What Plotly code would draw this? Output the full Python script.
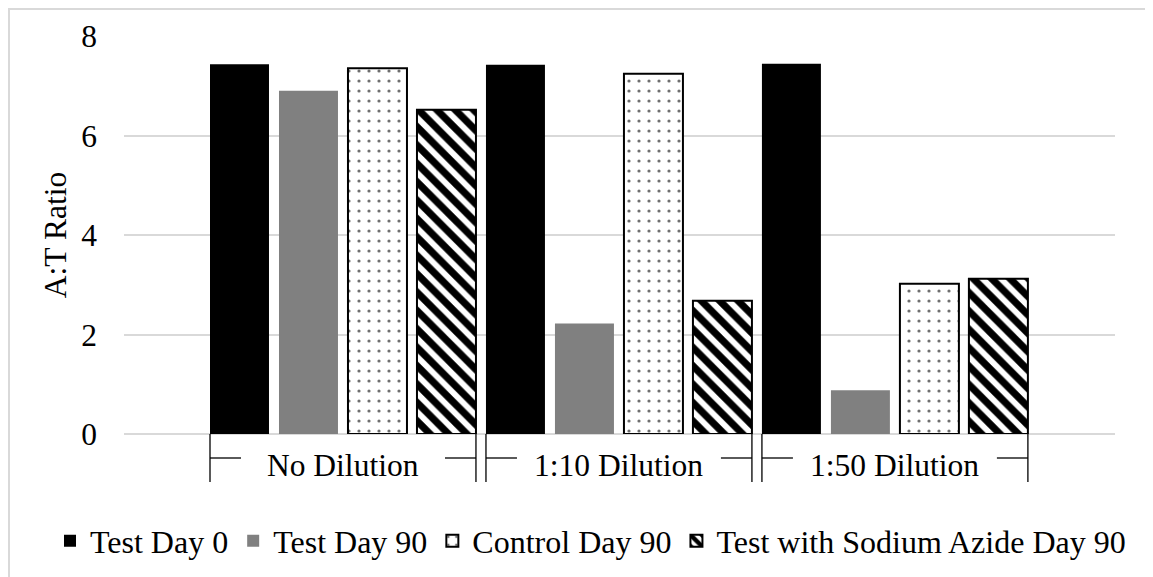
import plotly.graph_objects as go

groups = ["No Dilution", "1:10 Dilution", "1:50 Dilution"]
series = ["Test Day 0", "Test Day 90", "Control Day 90", "Test with Sodium Azide Day 90"]
test_day0 = [7.43, 7.42, 7.44]
test_day90 = [6.90, 2.22, 0.88]
control_day90 = [7.35, 7.24, 3.02]
azide_day90 = [6.52, 2.68, 3.12]
values = [test_day0, test_day90, control_day90, azide_day90]

FONT = "Liberation Serif"
FS = 31.5
LFS = 32
BW = 0.855
NS = len(series)

W, H = 1145, 569
ML, MR, MT, MB = 116, 38, 28, 143
PW = W - ML - MR
PH = H - MT - MB

styles = [
    dict(color="#000000", line=dict(width=0)),
    dict(color="#808080", line=dict(width=0)),
    dict(color="#ffffff", line=dict(color="#000000", width=2),
         pattern=dict(shape=".", fgcolor="#6e6e6e", bgcolor="#ffffff", fgopacity=1,
                      size=10, solidity=0.08)),
    dict(color="#ffffff", line=dict(color="#000000", width=2),
         pattern=dict(shape="\\", fgcolor="#000000", bgcolor="#ffffff", fgopacity=1,
                      size=13, solidity=0.55)),
]

fig = go.Figure()
for s, (name, vals) in enumerate(zip(series, values)):
    fig.add_trace(go.Bar(
        x=[g * NS + s for g in range(len(groups))],
        y=vals, name=name, width=BW, marker=styles[s],
    ))

XMIN, XMAX = -1.674, 12.69
unit_px = PW / (XMAX - XMIN)
shapes = []
annotations = []
drop = 48 / PH
mid = 24 / PH
arm = 31 / unit_px
for g, label in enumerate(groups):
    left = g * NS - BW / 2
    right = g * NS + (NS - 1) + BW / 2
    for xv in (left, right):
        shapes.append(dict(type="line", xref="x", yref="paper", x0=xv, x1=xv, y0=0, y1=-drop,
                           line=dict(color="#000000", width=1.3)))
    shapes.append(dict(type="line", xref="x", yref="paper", x0=left, x1=left + arm, y0=-mid, y1=-mid,
                       line=dict(color="#000000", width=1.3)))
    shapes.append(dict(type="line", xref="x", yref="paper", x0=right - arm, x1=right, y0=-mid, y1=-mid,
                       line=dict(color="#000000", width=1.3)))
    annotations.append(dict(text=label, x=(left + right) / 2, xref="x", y=-32 / PH, yref="paper",
                            showarrow=False, yanchor="middle", xanchor="center",
                            font=dict(family=FONT, size=FS, color="#000000")))

# chart border
shapes.append(dict(type="rect", xref="paper", yref="paper",
                   x0=-(ML - 1) / PW, x1=(PW + MR + 20) / PW,
                   y0=-(MB + 20) / PH, y1=1 + (MT - 1) / PH,
                   line=dict(color="#d9d9d9", width=2), fillcolor="rgba(0,0,0,0)", layer="below"))

fig.update_layout(
    width=W, height=H,
    margin=dict(l=ML, r=MR, t=MT, b=MB, autoexpand=False),
    paper_bgcolor="white", plot_bgcolor="white",
    barmode="overlay",
    font=dict(family=FONT, size=FS, color="#000000"),
    showlegend=True,
    legend=dict(orientation="h", x=-74 / PW, xanchor="left", y=-107 / PH, yanchor="middle",
                font=dict(family=FONT, size=LFS, color="#000000"),
                itemclick=False, tracegroupgap=0),
    shapes=shapes,
    annotations=annotations,
    xaxis=dict(range=[XMIN, XMAX], showticklabels=False, showgrid=False, zeroline=False,
               showline=False, ticks=""),
    yaxis=dict(range=[0, 8], dtick=2, showgrid=True, gridcolor="#d9d9d9", gridwidth=1.5,
               zeroline=True, zerolinecolor="#d9d9d9", zerolinewidth=1.5,
               showline=False, ticks="", ticklabelstandoff=26,
               title=dict(text="A:T Ratio", standoff=5, font=dict(family=FONT, size=FS)),
               tickfont=dict(family=FONT, size=FS)),
)

fig.write_html("out.html")
